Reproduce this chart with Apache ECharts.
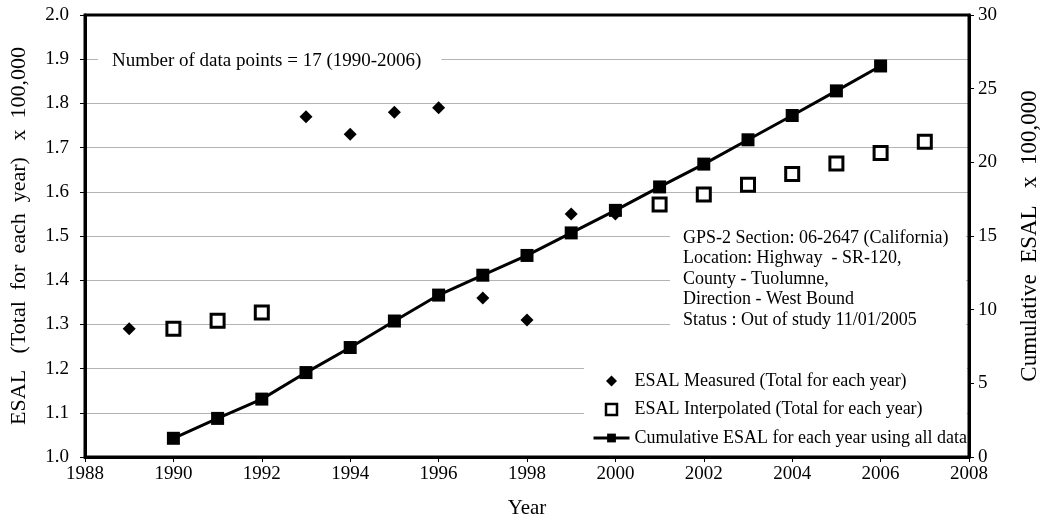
<!DOCTYPE html>
<html>
<head>
<meta charset="utf-8">
<script src="https://cdn.jsdelivr.net/npm/echarts@6/dist/echarts.min.js"></script>
<style>html,body{margin:0;padding:0;background:#fff}#c{width:1053px;height:524px}</style>
</head>
<body>
<div id="c"></div>
<script>
const measuredYears = [1989, 1993, 1994, 1995, 1996, 1997, 1998, 1999, 2000];
const measuredValues = [1.29, 1.77, 1.73, 1.78, 1.79, 1.36, 1.31, 1.55, 1.55];
const interpYears = [1990, 1991, 1992, 2001, 2002, 2003, 2004, 2005, 2006, 2007];
const interpValues = [1.29, 1.308, 1.327, 1.571, 1.594, 1.616, 1.640, 1.664, 1.688, 1.713];
const cumYears = [1990,1991,1992,1993,1994,1995,1996,1997,1998,1999,2000,2001,2002,2003,2004,2005,2006];
const cumValues = [1.27,2.62,3.93,5.73,7.43,9.23,10.99,12.34,13.68,15.21,16.74,18.33,19.88,21.53,23.18,24.85,26.54];
const xTicks = {min:1988, max:2008, interval:2};
const leftTicks = {min:1.0, max:2.0, interval:0.1};
const rightTicks = {min:0, max:30, interval:5};
const noteText = 'Number of data points = 17 (1990-2006)';
const infoLines = ['GPS-2 Section: 06-2647 (California)','Location: Highway  - SR-120,','County - Tuolumne,','Direction - West Bound','Status : Out of study 11/01/2005'];
const seriesNames = ['ESAL Measured (Total for each year)','ESAL Interpolated (Total for each year)','Cumulative ESAL for each year using all data'];

const zip = (a,b) => a.map((v,i)=>[v,b[i]]);
const FONT = 'Liberation Serif';
const chart = echarts.init(document.getElementById('c'));
chart.setOption({
  animation:false,
  textStyle:{fontFamily:FONT,color:'#000'},
  grid:{left:83,right:84,top:15,bottom:66,show:true,z:10,borderColor:'#000',borderWidth:3,backgroundColor:'transparent'},
  xAxis:{type:'value',min:xTicks.min,max:xTicks.max,interval:xTicks.interval,
    name:'Year',nameLocation:'middle',nameGap:41,nameTextStyle:{fontSize:21,fontFamily:FONT,color:'#000'},
    axisLine:{show:true,lineStyle:{color:'#000',width:3}},
    axisTick:{show:true,length:5,lineStyle:{color:'#000',width:1}},
    axisLabel:{fontSize:19,fontFamily:FONT,color:'#000',margin:8,formatter:v=>String(v)},
    splitLine:{show:false}},
  yAxis:[
    {type:'value',min:leftTicks.min,max:leftTicks.max,interval:leftTicks.interval,position:'left',
     name:'ESAL   (Total  for  each  year)   x  100,000',nameLocation:'middle',nameGap:55,
     nameTextStyle:{fontSize:22,fontFamily:FONT,color:'#000',padding:[0,0,0,0]},
     axisLine:{show:true,lineStyle:{color:'#000',width:3}},
     axisTick:{show:true,length:5,lineStyle:{color:'#000',width:1}},
     axisLabel:{fontSize:19,fontFamily:FONT,color:'#000',margin:16,formatter:v=>v.toFixed(1)},
     splitLine:{show:true,lineStyle:{color:'#b4b4b4',width:1}}},
    {type:'value',min:rightTicks.min,max:rightTicks.max,interval:rightTicks.interval,position:'right',
     name:'Cumulative  ESAL   x  100,000',nameLocation:'middle',nameGap:49,
     nameTextStyle:{fontSize:23,fontFamily:FONT,color:'#000'},
     axisLine:{show:true,lineStyle:{color:'#000',width:3}},
     axisTick:{show:true,length:5,lineStyle:{color:'#000',width:1}},
     axisLabel:{fontSize:19,fontFamily:FONT,color:'#000',margin:9},
     splitLine:{show:false}}
  ],
  legend:{orient:'vertical',left:584,top:366,itemWidth:36,itemHeight:11,itemGap:10.5,
    backgroundColor:'#fff',padding:[6,0,6,8],symbolKeepAspect:true,
    textStyle:{fontSize:18,fontFamily:FONT,color:'#000'},
    data:[
      {name:seriesNames[0],icon:'path://M0,-1L1,0L0,1L-1,0Z'},
      {name:seriesNames[1],icon:'path://M0,0L1,0L1,1L0,1Z',itemStyle:{borderWidth:2.5}},
      {name:seriesNames[2],lineStyle:{width:3}}
    ]},
  graphic:[
    {type:'text',left:98,top:50,z:100,style:{text:noteText,font:'19px "Liberation Serif"',fill:'#000',backgroundColor:'#fff',padding:[2,20,2,14]}},
    {type:'text',left:670,top:226,z:5,style:{text:infoLines.join('\n'),font:'18px "Liberation Serif"',lineHeight:20.5,fill:'#000',backgroundColor:'#fff',padding:[2,0,2,13],width:283}}
  ],
  series:[
    {name:seriesNames[0],type:'scatter',yAxisIndex:0,symbol:'diamond',symbolSize:13,
     itemStyle:{color:'#000',opacity:1},data:zip(measuredYears,measuredValues),z:3},
    {name:seriesNames[1],type:'scatter',yAxisIndex:0,symbol:'rect',symbolSize:13,
     itemStyle:{color:'#fff',borderColor:'#000',borderWidth:3,opacity:1},data:zip(interpYears,interpValues),z:3},
    {name:seriesNames[2],type:'line',yAxisIndex:1,symbol:'rect',symbolSize:13,
     lineStyle:{color:'#000',width:3},itemStyle:{color:'#000'},data:zip(cumYears,cumValues),z:4}
  ]
});
</script>
</body>
</html>
